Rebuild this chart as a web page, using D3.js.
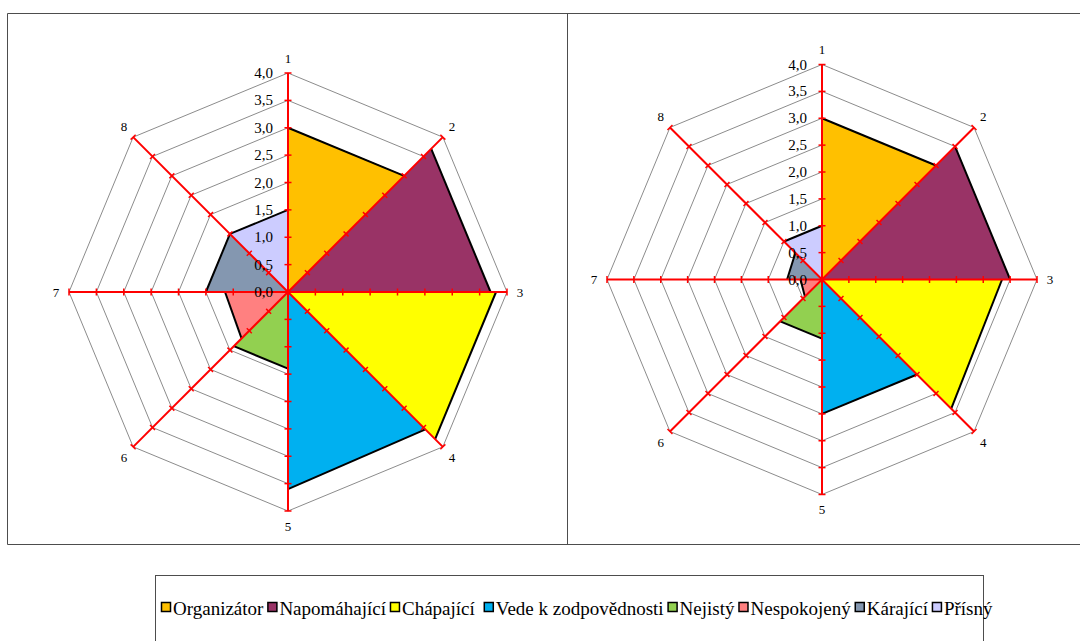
<!DOCTYPE html>
<html>
<head>
<meta charset="utf-8">
<script src="https://cdn.jsdelivr.net/npm/d3@7/dist/d3.min.js"></script>
<style>
  html, body { margin: 0; padding: 0; background: #fff; }
  svg { display: block; }
  text { font-family: "Liberation Serif", "Times New Roman", serif; fill: #000; }
</style>
</head>
<body>
<svg id="chart" width="1080" height="641"></svg>
<script>
// Axis names around the octagon (clockwise from the top)
const axisLabels = ["1", "2", "3", "4", "5", "6", "7", "8"];
// Radial tick labels
const tickValues = [0, 0.5, 1, 1.5, 2, 2.5, 3, 3.5, 4];
const tickLabels = ["0,0", "0,5", "1,0", "1,5", "2,0", "2,5", "3,0", "3,5", "4,0"];

// Series: each one fills the wedge between axis i and axis i+1
const seriesNames = ["Organizátor", "Napomáhající", "Chápající", "Vede k zodpovědnosti",
                     "Nejistý", "Nespokojený", "Kárající", "Přísný"];
const seriesColors = ["#FFC000", "#993366", "#FFFF00", "#00B0F0",
                      "#92D050", "#FF8080", "#8497B0", "#CCCCFF"];

// Left chart: value on the wedge's first axis and on its second axis
const leftFirst  = [3.0, 3.7, 3.8, 3.55, 1.4, 1.2, 1.5, 1.5];
const leftSecond = [3.0, 3.7, 3.8, 3.6, 1.4, 1.15, 1.5, 1.5];
// Right chart
const rightFirst  = [3.0, 3.5, 3.35, 2.5, 1.1, 0.45, 0.65, 1.0];
const rightSecond = [3.0, 3.5, 3.4, 2.5, 1.1, 0.4, 0.7, 1.0];

const svg = d3.select("#chart");

// Panel frames
const frame = svg.append("g").attr("fill", "none").attr("stroke", "#4d4d4d").attr("stroke-width", 1);
frame.append("line").attr("x1", 7.5).attr("x2", 1080).attr("y1", 13.5).attr("y2", 13.5);
frame.append("line").attr("x1", 7.5).attr("x2", 1080).attr("y1", 544.5).attr("y2", 544.5);
frame.append("line").attr("x1", 7.5).attr("x2", 7.5).attr("y1", 13.5).attr("y2", 544.5);
frame.append("line").attr("x1", 567.5).attr("x2", 567.5).attr("y1", 13.5).attr("y2", 544.5);

function drawRadar(cx, cy, R, first, second) {
  const g = svg.append("g").attr("transform", `translate(${cx},${cy})`);
  const r = d3.scaleLinear().domain([0, 4]).range([0, R]);
  const n = axisLabels.length;
  const angle = d3.scaleLinear().domain([0, n]).range([0, 2 * Math.PI]);
  const pt = (i, v) => [r(v) * Math.sin(angle(i)), -r(v) * Math.cos(angle(i))];

  // Octagonal grid rings
  g.append("g").selectAll("path").data(tickValues.filter(v => v > 0)).join("path")
    .attr("d", v => d3.line()(d3.range(n + 1).map(i => pt(i % n, v))))
    .attr("fill", "none").attr("stroke", "#8c8c8c").attr("stroke-width", 1);

  // Filled wedges
  const wedges = g.append("g");
  seriesNames.forEach((name, i) => {
    const a = pt(i, first[i]);
    const b = pt((i + 1) % n, second[i]);
    wedges.append("path")
      .attr("d", d3.line()([[0, 0], a, b]) + "Z")
      .attr("fill", seriesColors[i]).attr("stroke", "none");
  });
  // Outer edges of the wedges
  seriesNames.forEach((name, i) => {
    const a = pt(i, first[i]);
    const b = pt((i + 1) % n, second[i]);
    wedges.append("path")
      .attr("d", d3.line()([a, b]))
      .attr("fill", "none").attr("stroke", "#000").attr("stroke-width", 2);
  });

  // Red spokes with tick marks
  const spokes = g.append("g").attr("stroke", "#ff0000");
  d3.range(n).forEach(i => {
    const e = pt(i, 4);
    spokes.append("line").attr("x1", 0).attr("y1", 0).attr("x2", e[0]).attr("y2", e[1])
      .attr("stroke-width", 2);
    const a = angle(i);
    const px = Math.cos(a), py = Math.sin(a);
    tickValues.filter(v => v > 0).forEach(v => {
      const p = pt(i, v);
      spokes.append("line")
        .attr("x1", p[0] - px * 3.5).attr("y1", p[1] - py * 3.5)
        .attr("x2", p[0] + px * 3.5).attr("y2", p[1] + py * 3.5)
        .attr("stroke-width", 1.5);
    });
  });

  // Axis names
  g.append("g").selectAll("text").data(axisLabels).join("text")
    .attr("x", (d, i) => pt(i, 4)[0] + Math.sin(angle(i)) * 13)
    .attr("y", (d, i) => pt(i, 4)[1] - Math.cos(angle(i)) * 15)
    .attr("text-anchor", "middle").attr("dominant-baseline", "central")
    .attr("font-size", 13)
    .text(d => d);

  // Radial value labels along the first axis
  g.append("g").selectAll("text").data(tickValues).join("text")
    .attr("x", -15)
    .attr("y", v => -r(v))
    .attr("text-anchor", "end").attr("dominant-baseline", "central")
    .attr("font-size", 15)
    .text((v, i) => tickLabels[i]);
}

drawRadar(288, 292, 219, leftFirst, leftSecond);
drawRadar(822, 279.5, 215, rightFirst, rightSecond);

// Legend
const legend = svg.append("g");
legend.append("rect").attr("x", 155.5).attr("y", 575.5).attr("width", 828).attr("height", 80)
  .attr("fill", "#fff").attr("stroke", "#4d4d4d").attr("stroke-width", 1);
let lx = 161;
const ly = 608;
seriesNames.forEach((name, i) => {
  legend.append("rect").attr("x", lx + 0.5).attr("y", ly - 5.5).attr("width", 9).attr("height", 9)
    .attr("fill", seriesColors[i]).attr("stroke", "#000").attr("stroke-width", 1.5);
  const t = legend.append("text").attr("x", lx + 12).attr("y", ly)
    .attr("dominant-baseline", "central").attr("font-size", 19)
    .text(name);
  lx += 12 + t.node().getComputedTextLength() + (i === 2 ? 9 : 4);
});
</script>
</body>
</html>
